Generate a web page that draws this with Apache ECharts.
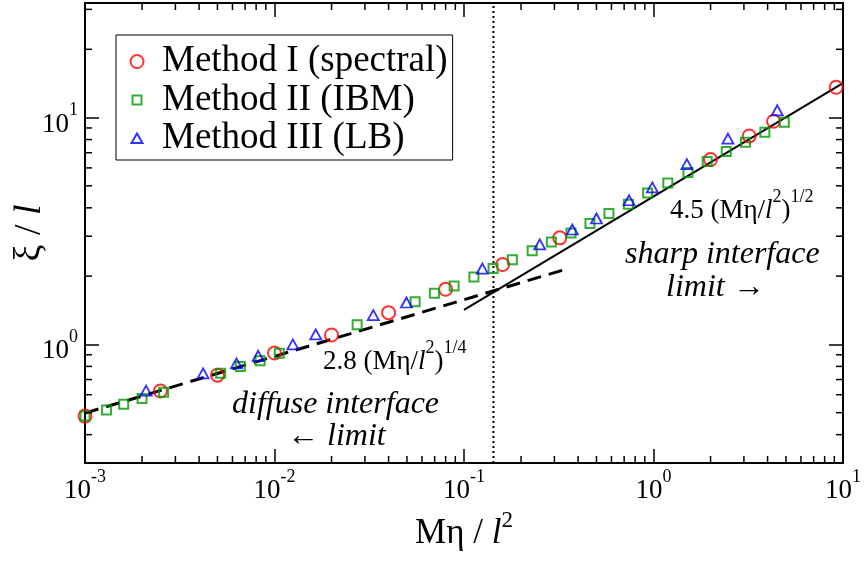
<!DOCTYPE html>
<html><head><meta charset="utf-8">
<script src="https://cdn.jsdelivr.net/npm/echarts@6/dist/echarts.min.js"></script>
<style>html,body{margin:0;padding:0;background:#fff}#c{width:864px;height:561px}</style>
</head><body><div id="c"></div>
<script>
// ---- data ----
const seriesNames = ['Method I (spectral)', 'Method II (IBM)', 'Method III (LB)'];

const method1X = [0.001, 0.0025, 0.005, 0.01, 0.02, 0.04, 0.08, 0.16, 0.32, 2.0, 3.2, 4.3, 9.2];
const method1Y = [0.483, 0.623, 0.732, 0.916, 1.10, 1.38, 1.75, 2.25, 2.95, 6.53, 8.3, 9.63, 13.6];

const method2X = [0.001, 0.0013, 0.0016, 0.002, 0.0026, 0.0052, 0.0066, 0.0084, 0.0106, 0.0273, 0.0552, 0.0698, 0.0887, 0.1128, 0.1424, 0.180, 0.229, 0.289, 0.367, 0.462, 0.582, 0.737, 0.931, 1.19, 1.52, 1.92, 2.42, 3.06, 3.87, 4.90];
const method2Y = [0.483, 0.514, 0.544, 0.578, 0.615, 0.747, 0.80, 0.847, 0.913, 1.22, 1.54, 1.68, 1.81, 1.98, 2.16, 2.36, 2.59, 2.83, 3.10, 3.41, 3.78, 4.15, 4.65, 5.15, 5.72, 6.40, 7.08, 7.79, 8.61, 9.53];

const method3X = [0.0021, 0.0042, 0.0063, 0.0082, 0.0125, 0.0165, 0.0332, 0.0497, 0.125, 0.251, 0.373, 0.50, 0.743, 0.986, 1.50, 2.47, 4.50];
const method3Y = [0.625, 0.745, 0.825, 0.891, 1.00, 1.107, 1.346, 1.53, 2.16, 2.76, 3.21, 3.59, 4.32, 4.92, 6.23, 8.08, 10.77];

// fitted guide lines (end points)
const diffuseFitX = [0.001, 0.335];
const diffuseFitY = [0.498, 2.13];
const sharpFitX = [0.1, 10];
const sharpFitY = [1.42, 14.2];
// crossover marker
const crossoverX = [0.143, 0.143];
const crossoverY = [0.3, 32];

// axes
const xRange = [0.001, 10];
const yRange = [0.3, 32];
const xTickExponents = [-3, -2, -1, 0, 1];
const yTickExponents = [0, 1];
const xMinorTicks = [0.002,0.003,0.004,0.005,0.006,0.007,0.008,0.009,
                     0.02,0.03,0.04,0.05,0.06,0.07,0.08,0.09,
                     0.2,0.3,0.4,0.5,0.6,0.7,0.8,0.9,
                     2,3,4,5,6,7,8,9];
const yMinorTicks = [0.4,0.5,0.6,0.7,0.8,0.9,2,3,4,5,6,7,8,9,20,30];

// ---- chart ----
const SERIF = "'Liberation Serif','Times New Roman',serif";
const zip = (a, b) => a.map((v, i) => [v, b[i]]);

function powLabel(exps) {
  return function (v) {
    const e = Math.log10(v), r = Math.round(e);
    if (Math.abs(e - r) > 1e-6 || exps.indexOf(r) < 0) return '';
    return '{b|10}{s|' + r + '}';
  };
}
const tickRich = {
  b: {fontFamily: SERIF, fontSize: 27, lineHeight: 30, color: '#000', padding: [14, 0, 0, 0]},
  s: {fontFamily: SERIF, fontSize: 18, lineHeight: 20, color: '#000', padding: [0, 0, 14, 0]}
};
const axisLineStyle = {color: '#000', width: 2};
const tickStyle = {inside: true, length: 14, lineStyle: {color: '#000', width: 1.5}};

function xAx(pos, showLabel) {
  return {
    type: 'log', logBase: 10, min: xRange[0], max: xRange[1], position: pos,
    axisLine: {show: true, onZero: false, lineStyle: axisLineStyle},
    axisTick: tickStyle, splitLine: {show: false},
    axisLabel: {show: showLabel, margin: 6, formatter: powLabel(xTickExponents), rich: tickRich,
                showMinLabel: true, showMaxLabel: true},
    name: showLabel ? '{a|Mη / }{i|l}{s|2}' : '',
    nameLocation: 'middle', nameGap: 45, nameMoveOverlap: false,
    nameTextStyle: {rich: {
      a: {fontFamily: SERIF, fontSize: 35, lineHeight: 38, color: '#000', padding: [13, 0, 0, 0]},
      i: {fontFamily: SERIF, fontSize: 35, lineHeight: 38, fontStyle: 'italic', color: '#000', padding: [13, 0, 0, 0]},
      s: {fontFamily: SERIF, fontSize: 23, lineHeight: 26, color: '#000', padding: [0, 0, 13, 0]}
    }}
  };
}
function yAx(pos, showLabel) {
  return {
    type: 'log', logBase: 10, min: yRange[0], max: yRange[1], position: pos,
    axisLine: {show: true, onZero: false, lineStyle: axisLineStyle},
    axisTick: tickStyle, splitLine: {show: false},
    axisLabel: {show: showLabel, margin: 7, formatter: powLabel(yTickExponents), rich: tickRich},
    name: showLabel ? '{a|ξ / }{i|l}' : '',
    nameLocation: 'middle', nameGap: 35, nameRotate: 90, nameMoveOverlap: false,
    nameTextStyle: {rich: {
      a: {fontFamily: SERIF, fontSize: 38, lineHeight: 40, color: '#000'},
      i: {fontFamily: SERIF, fontSize: 38, lineHeight: 40, fontStyle: 'italic', color: '#000'}
    }}
  };
}

const minorData = xMinorTicks.map(v => [v, 1, 0]).concat(yMinorTicks.map(v => [0.01, v, 1]));

const annRich = {
  n: {fontFamily: SERIF, fontSize: 27, lineHeight: 30, color: '#000', padding: [13, 0, 0, 0]},
  i: {fontFamily: SERIF, fontSize: 27, lineHeight: 30, fontStyle: 'italic', color: '#000', padding: [13, 0, 0, 0]},
  s: {fontFamily: SERIF, fontSize: 18, lineHeight: 20, color: '#000', padding: [0, 0, 13, 0]}
};
const itRich = {
  i: {fontFamily: SERIF, fontSize: 32, lineHeight: 34, fontStyle: 'italic', color: '#000'},
  r: {fontFamily: SERIF, fontSize: 32, lineHeight: 34, color: '#000'}
};
function txt(x, y, text, rich) {
  return {type: 'text', x: x, y: y, z: 10, silent: true,
          style: {text: text, rich: rich, align: 'left', verticalAlign: 'middle',
                  textAlign: 'left', textVerticalAlign: 'middle'}};
}

const chart = echarts.init(document.getElementById('c'), null, {renderer: 'canvas'});
chart.setOption({
  backgroundColor: '#fff',
  animation: false,
  grid: {left: 85, right: 21, top: 3, bottom: 98, containLabel: false, outerBoundsMode: 'none'},
  xAxis: [xAx('bottom', true), xAx('top', false)],
  yAxis: [yAx('left', true), yAx('right', false)],
  legend: {
    orient: 'vertical', left: 116, top: 35, padding: [8, 5, 3, 13.5], itemGap: 1.5,
    itemWidth: 40, itemHeight: 13, symbolKeepAspect: true, selectedMode: false,
    borderColor: '#000', borderWidth: 1, backgroundColor: '#fff',
    textStyle: {fontFamily: SERIF, fontSize: 37, lineHeight: 36, color: '#000'},
    data: [
      {name: seriesNames[0], icon: 'circle',
       itemStyle: {color: 'transparent', borderColor: '#ff0000', borderWidth: 2}},
      {name: seriesNames[1], icon: 'path://M0,0M13,13M2,2L11,2L11,11L2,11Z',
       itemStyle: {color: 'transparent', borderColor: '#009900', borderWidth: 2}},
      {name: seriesNames[2], icon: 'path://M0,0M13,13M6.5,1.5L12,11L1,11Z',
       itemStyle: {color: 'transparent', borderColor: '#0000ff', borderWidth: 2}}
    ]
  },
  series: [
    {type: 'line', data: zip(crossoverX, crossoverY), symbol: 'none', silent: true,
     lineStyle: {color: '#000', width: 2, type: [2, 3]}, z: 1},
    {type: 'line', data: zip(diffuseFitX, diffuseFitY), symbol: 'none', silent: true,
     lineStyle: {color: '#000', width: 3, type: [14, 8]}, z: 1},
    {type: 'line', data: zip(sharpFitX, sharpFitY), symbol: 'none', silent: true,
     lineStyle: {color: '#000', width: 2}, z: 1},
    {type: 'scatter', name: seriesNames[0], data: zip(method1X, method1Y), symbol: 'circle', symbolSize: 13,
     itemStyle: {color: 'transparent', borderColor: '#ff0000', borderWidth: 2}, z: 3},
    {type: 'scatter', name: seriesNames[1], data: zip(method2X, method2Y), symbol: 'rect', symbolSize: 9,
     itemStyle: {color: 'transparent', borderColor: '#009900', borderWidth: 2}, z: 4},
    {type: 'scatter', name: seriesNames[2], data: zip(method3X, method3Y), symbol: 'triangle', symbolSize: [11, 10],
     itemStyle: {color: 'transparent', borderColor: '#0000ff', borderWidth: 1.8}, z: 5},
    {type: 'custom', coordinateSystem: 'cartesian2d', silent: true, clip: false, z: 6,
     data: minorData, encode: {x: 0, y: 1},
     renderItem: function (params, api) {
       const cs = params.coordSys;
       const st = {stroke: '#000', lineWidth: 1.5};
       if (api.value(2) === 0) {
         const px = api.coord([api.value(0), 1])[0];
         return {type: 'group', children: [
           {type: 'line', shape: {x1: px, y1: cs.y + cs.height, x2: px, y2: cs.y + cs.height - 7}, style: st},
           {type: 'line', shape: {x1: px, y1: cs.y, x2: px, y2: cs.y + 7}, style: st}
         ]};
       }
       const py = api.coord([0.01, api.value(1)])[1];
       return {type: 'group', children: [
         {type: 'line', shape: {x1: cs.x, y1: py, x2: cs.x + 7, y2: py}, style: st},
         {type: 'line', shape: {x1: cs.x + cs.width, y1: py, x2: cs.x + cs.width - 7, y2: py}, style: st}
       ]};
     }}
  ],
  graphic: [
    txt(323, 355, '{n|2.8 (Mη/}{i|l}{s|2}{n|)}{s|1/4}', annRich),
    txt(232, 405, '{i|diffuse interface}', itRich),
    txt(287, 437, '{r|← }{i|limit}', itRich),
    txt(670, 204, '{n|4.5 (Mη/}{i|l}{s|2}{n|)}{s|1/2}', annRich),
    txt(625, 255, '{i|sharp interface}', itRich),
    txt(666, 288, '{i|limit }{r|→}', itRich)
  ]
});
</script>
</body></html>
